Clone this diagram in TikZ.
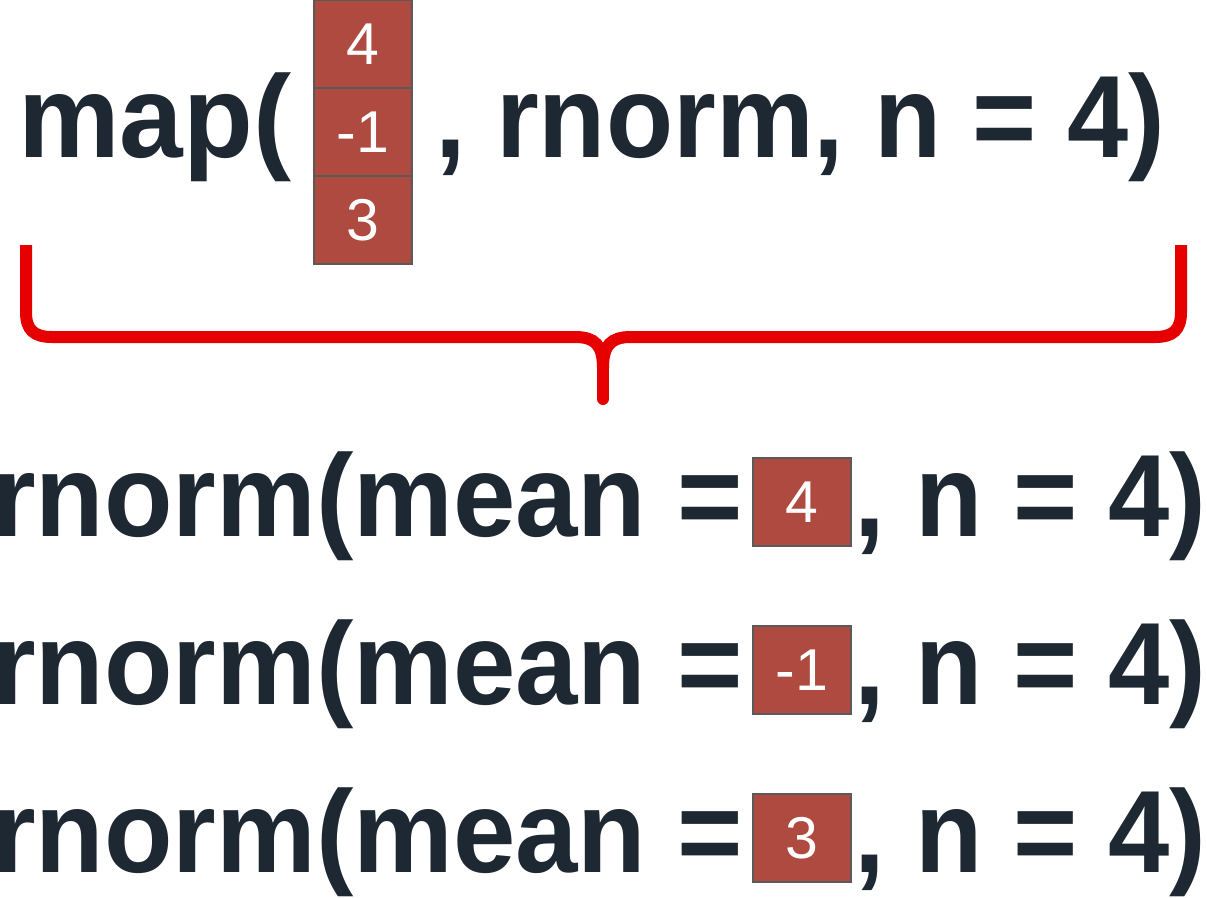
\documentclass[tikz,border=0pt]{standalone}
\usepackage{fontspec}
\setmainfont{Liberation Sans}
\definecolor{ink}{HTML}{1E2833}
\definecolor{cell}{HTML}{AE4A3F}
\definecolor{cellline}{HTML}{5A5A5A}
\definecolor{bracered}{HTML}{E60000}
\newcommand\fitw[2]{\setbox0=\hbox{#2}\scalebox{\fpeval{#1*65536/\number\wd0}}[1]{#2}}
\begin{document}
\begin{tikzpicture}[x=1pt,y=-1pt,
  code/.style={inner sep=0pt, anchor=base west, text=ink, font=\fontsize{117}{140}\selectfont\bfseries},
  cellbox/.style={draw=cellline, line width=1.5pt, fill=cell, minimum width=98pt, minimum height=88pt, inner sep=0pt, text=white, font=\fontsize{59}{70}\selectfont},
  brace/.style={draw=bracered, line width=12pt}]
\useasboundingbox (0,0) rectangle (1207,897);
% top line
\node[code] (map) at (18,157) {\fitw{273}{map(}};
\node[cellbox] (c1) at (363,44) {4};
\node[cellbox] (c2) at (363,132) {-1};
\node[cellbox] (c3) at (363,220) {3};
\node[code] (rest) at (435,157) {\fitw{730}{, rnorm, n = 4)}};
% brace
\draw[brace, line cap=butt] (26,245) -- (26,312) .. controls (26,330) and (34,337) .. (52,337) -- (575,337) .. controls (595,337) and (603,345) .. (603,368);
\draw[brace, line cap=butt] (1181,245) -- (1181,312) .. controls (1181,330) and (1173,337) .. (1155,337) -- (631,337) .. controls (611,337) and (603,345) .. (603,368);
\draw[brace, line cap=round] (603,360) -- (603,399);
% rows
\foreach \i/\y/\v in {1/536/4, 2/704/-1, 3/872/3}{
  \node[code] (l\i) at (-8,\y) {\fitw{751}{rnorm(mean =}};
  \node[cellbox] (b\i) at (802,\y-34) {\v};
  \node[code] (r\i) at (854,\y) {\fitw{352}{, n = 4)}};
}
\end{tikzpicture}
\end{document}
